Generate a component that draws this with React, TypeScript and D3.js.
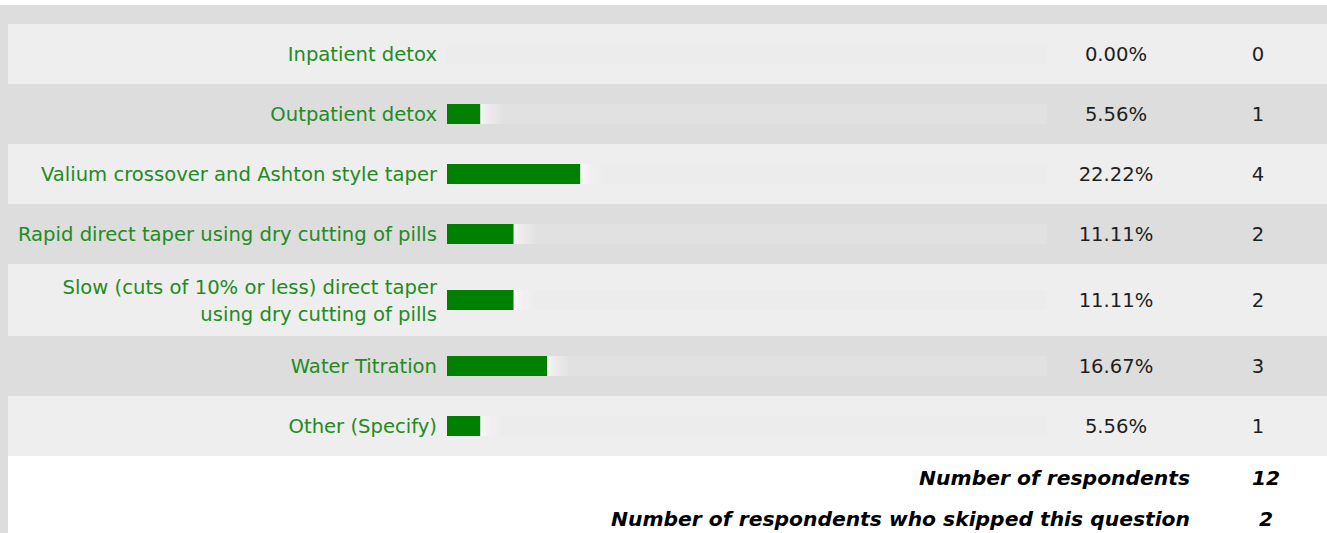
import React from "react";
import * as d3 from "d3";

const categories: string[][] = [
  ["Inpatient detox"],
  ["Outpatient detox"],
  ["Valium crossover and Ashton style taper"],
  ["Rapid direct taper using dry cutting of pills"],
  ["Slow (cuts of 10% or less) direct taper", "using dry cutting of pills"],
  ["Water Titration"],
  ["Other (Specify)"],
];
const percents: number[] = [0.0, 5.56, 22.22, 11.11, 11.11, 16.67, 5.56];
const counts: number[] = [0, 1, 4, 2, 2, 3, 1];
const footerLabels: string[] = [
  "Number of respondents",
  "Number of respondents who skipped this question",
];
const footerValues: number[] = [12, 2];

const W = 1327;
const H = 533;
const FONT = "'DejaVu Sans', sans-serif";

export default function App() {
  const top = 24;
  const baseRow = 60;
  const extraLine = 12;
  const heights = categories.map((c) => baseRow + (c.length - 1) * extraLine);
  const starts: number[] = [];
  let acc = top;
  heights.forEach((h) => {
    starts.push(acc);
    acc += h;
  });
  const tableBottom = acc;

  const barX0 = 447;
  const x = d3.scaleLinear().domain([0, 100]).range([0, 600]);
  const labelRight = 437;
  const pctCenter = 1116;
  const countCenter = 1258;
  const barH = 20;
  const lineH = 27;
  const fs = 19.6;

  return (
    <svg
      width={W}
      height={H}
      style={{ position: "absolute", left: 0, top: 0, display: "block" }}
      fontFamily={FONT}
    >
      <defs>
        <linearGradient id="fade" x1="0" x2="1" y1="0" y2="0">
          <stop offset="0" stopColor="#ffffff" stopOpacity={0.7} />
          <stop offset="0.5" stopColor="#f8eef6" stopOpacity={0.45} />
          <stop offset="1" stopColor="#ffffff" stopOpacity={0} />
        </linearGradient>
      </defs>
      <rect x={0} y={0} width={W} height={H} fill="#ffffff" />
      <rect x={0} y={5} width={W} height={tableBottom - 5} fill="#dddddd" />
      <rect x={0} y={5} width={8} height={H - 5} fill="#dddddd" />
      {categories.map((lines, i) => {
        const y0 = starts[i];
        const h = heights[i];
        const cy = y0 + h / 2;
        const w = x(percents[i]);
        return (
          <g key={i}>
            <rect x={8} y={y0} width={W - 8} height={h} fill={i % 2 === 0 ? "#eeeeee" : "#dddddd"} />
            <rect x={barX0} y={cy - barH / 2} width={x(100)} height={barH} fill={i % 2 === 0 ? "#ececec" : "#e1e1e1"} />
            {w > 0 && (
              <>
                <rect x={barX0} y={cy - barH / 2} width={w} height={barH} fill="#008000" />
                <rect x={barX0 + w} y={cy - barH / 2} width={22} height={barH} fill="url(#fade)" />
              </>
            )}
            <text x={labelRight} textAnchor="end" fontSize={fs} fill="#228b22">
              {lines.map((ln, j) => (
                <tspan
                  key={j}
                  x={labelRight}
                  y={cy + (j - (lines.length - 1) / 2) * lineH + 7}
                >
                  {ln}
                </tspan>
              ))}
            </text>
            <text x={pctCenter} y={cy + 7} textAnchor="middle" fontSize={fs} fill="#1e1e1e">
              {d3.format(".2f")(percents[i]) + "%"}
            </text>
            <text x={countCenter} y={cy + 7} textAnchor="middle" fontSize={fs} fill="#1e1e1e">
              {counts[i]}
            </text>
          </g>
        );
      })}
      {footerLabels.map((lab, i) => {
        const cy = tableBottom + 22 + i * 41;
        return (
          <g key={lab}>
            <text
              x={1190}
              y={cy + 7}
              textAnchor="end"
              fontSize={20.3}
              fontWeight="bold"
              fontStyle="italic"
              fill="#000000"
            >
              {lab}
            </text>
            <text
              x={1266}
              y={cy + 7}
              textAnchor="middle"
              fontSize={20.3}
              fontWeight="bold"
              fontStyle="italic"
              fill="#000000"
            >
              {footerValues[i]}
            </text>
          </g>
        );
      })}
    </svg>
  );
}
